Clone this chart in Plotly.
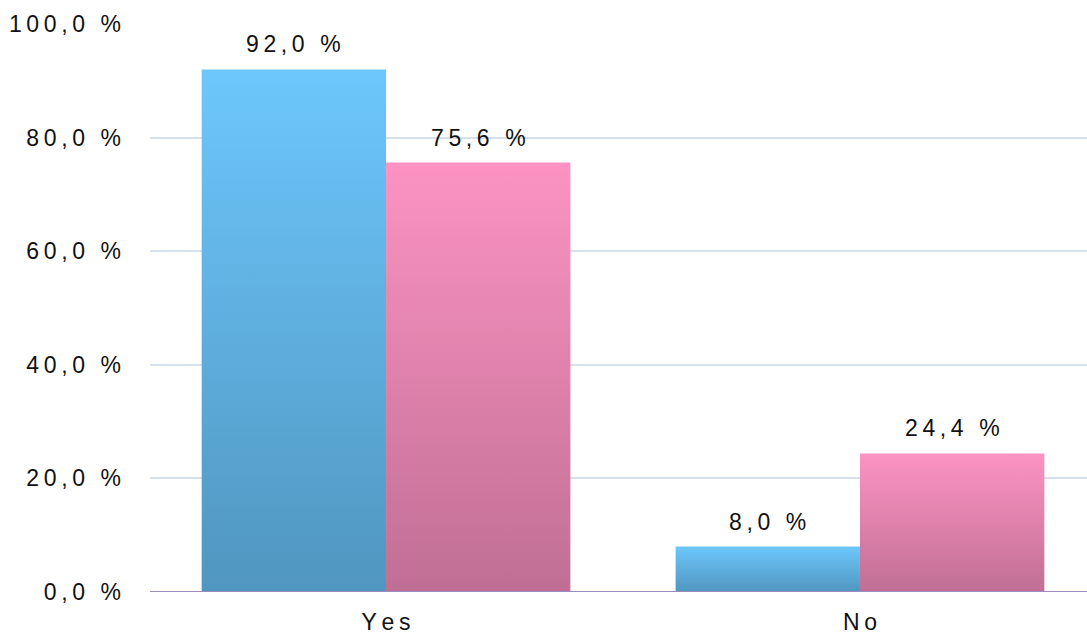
import plotly.graph_objects as go

categories = ["Yes", "No"]
series_names = ["Series A", "Series B"]
values_a = [92.0, 8.0]
values_b = [75.6, 24.4]
y_tick_vals = [0, 20, 40, 60, 80, 100]
y_tick_text = ["0,0 %", "20,0 %", "40,0 %", "60,0 %", "80,0 %", "100,0 %"]

HS = "\u2009"
def spaced(s):
    return HS.join(list(s))

colors = [("#5096C0", "#6DC7FC"), ("#C06F94", "#FC93C3")]
half = 0.1945
offsets = [-half, half]

fig = go.Figure()
for s, vals in enumerate([values_a, values_b]):
    for i, v in enumerate(vals):
        cx = i + offsets[s]
        xs = [cx - half, cx + half, cx + half, cx - half, cx - half]
        ys = [0, 0, v, v, 0]
        fig.add_trace(go.Scatter(
            x=xs, y=ys, mode="lines", fill="toself",
            line=dict(width=0, color=colors[s][1]),
            fillgradient=dict(type="vertical",
                              colorscale=[[0, colors[s][0]], [1, colors[s][1]]]),
            name=series_names[s], showlegend=False, hoverinfo="skip"))
        fig.add_annotation(x=cx, y=v, text=spaced(f"{v:.1f}".replace(".", ",") + " %"),
                           showarrow=False, yanchor="bottom", yshift=10,
                           font=dict(size=23, color="#111111", family="Arial"))

fig.update_layout(
    width=1087, height=637,
    margin=dict(l=150, r=0, t=24, b=45),
    paper_bgcolor="white", plot_bgcolor="white",
    showlegend=False,
    font=dict(family="Arial", size=23, color="#111111"),
)
fig.update_xaxes(range=[-0.498, 1.479], tickvals=[0, 1],
                 ticktext=[spaced(c) for c in categories],
                 showgrid=False, zeroline=False, showline=False,
                 ticks="", ticklabelstandoff=14, automargin=False,
                 tickfont=dict(size=23, color="#111111"))
fig.update_yaxes(range=[0, 100], tickvals=y_tick_vals,
                 ticktext=[spaced(t) for t in y_tick_text],
                 showgrid=True, gridcolor="#D6DFEC", gridwidth=1.5,
                 zeroline=False, showline=False, ticks="",
                 ticklabelstandoff=28, automargin=False,
                 tickfont=dict(size=23, color="#111111"))
fig.add_hline(y=0, line=dict(color="#9C8BBE", width=2), layer="above")

fig.write_html("out.html")
